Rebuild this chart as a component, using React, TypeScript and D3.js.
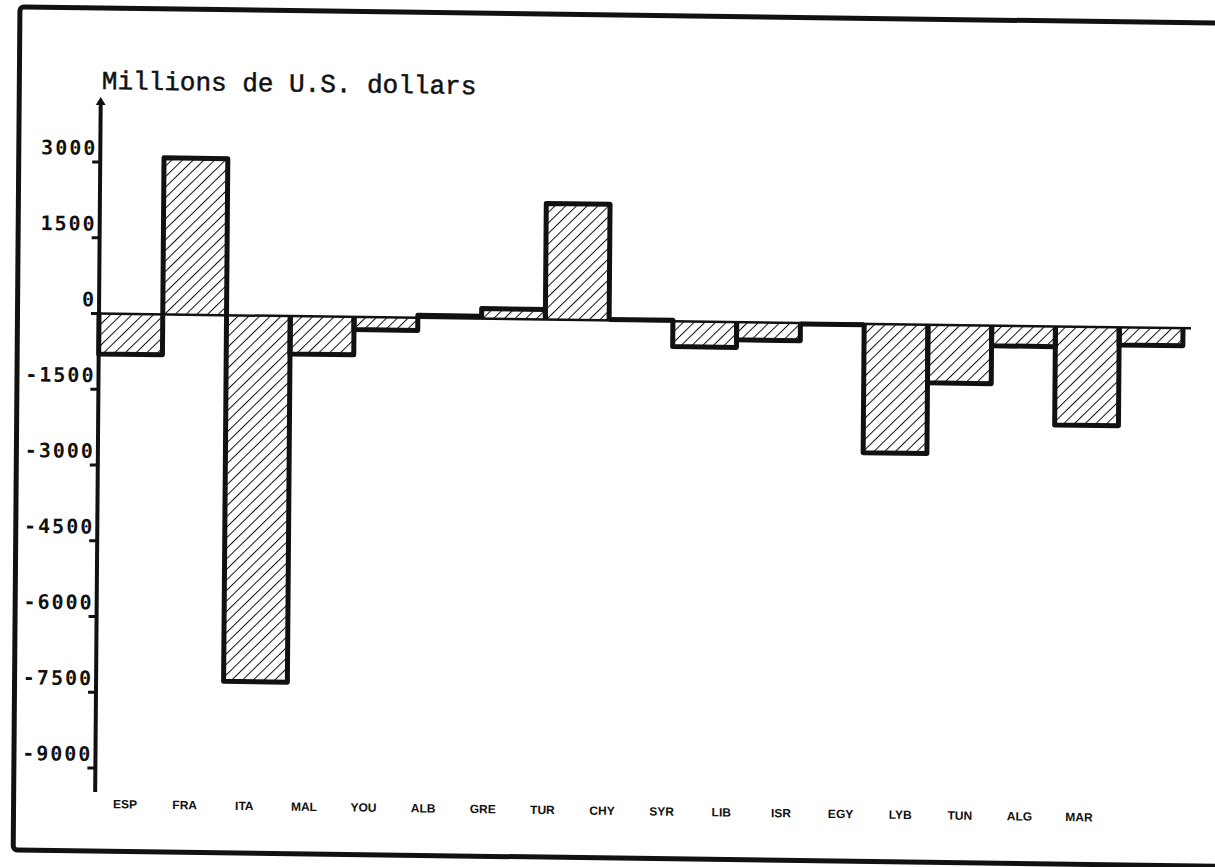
import * as d3 from 'd3';

// Balance by country, millions of U.S. dollars
const CATEGORIES = ['ESP', 'FRA', 'ITA', 'MAL', 'YOU', 'ALB', 'GRE', 'TUR', 'CHY', 'SYR', 'LIB', 'ISR', 'EGY', 'LYB', 'TUN', 'ALG', 'MAR'];
const BALANCE = [-800, 3100, -7250, -750, -250, 50, 200, 2300, 20, -500, -350, -20, -2550, -1150, -400, -1950, -350];
const Y_TICKS = [3000, 1500, 0, -1500, -3000, -4500, -6000, -7500, -9000];
const Y_TITLE = 'Millions de U.S. dollars';

const WIDTH = 1215;
const HEIGHT = 867;
const AXIS_X = 99;
const AXIS_TOP = 97;
const AXIS_BOTTOM = 792;
const INK = '#111';

// the scan is slightly skewed: right side sits lower, bottom sits further left
const SKEW = 'matrix(1, 0.0135, -0.008, 1, 2.512, -1.31)';

export default function App() {
  const x = d3.scaleBand<string>().domain(CATEGORIES).range([AXIS_X, 1183]).padding(0);
  // labels were typed separately, slightly tighter than the bars
  const xLabel = d3.scalePoint<string>().domain(CATEGORIES).range([129, 1083]);
  const y = d3.scaleLinear().domain([-9000, 3000]).range([768, 162]);
  const bw = x.bandwidth();
  const y0 = y(0);

  return (
    <svg
      width={WIDTH}
      height={HEIGHT}
      viewBox={`0 0 ${WIDTH} ${HEIGHT}`}
      style={{ position: 'absolute', left: 0, top: 0, display: 'block', background: '#fff' }}
    >
      <defs>
        <pattern id="hatch" width={7.5} height={7.5} patternUnits="userSpaceOnUse" patternTransform="rotate(45)">
          <line x1={0} y1={0} x2={0} y2={7.5} stroke={INK} strokeWidth={2} />
        </pattern>
      </defs>

      <g transform={SKEW}>
        {/* outer frame (right edge falls outside the page) */}
        <rect x={17.5} y={8} width={1240} height={843} rx={4} fill="none" stroke={INK} strokeWidth={5} />

        {/* title */}
        <text
          x={100}
          y={89}
          fontFamily="'Liberation Mono', monospace"
          fontSize={26}
          fill={INK}
          stroke={INK}
          strokeWidth={0.5}
        >
          {Y_TITLE}
        </text>

        {/* bars */}
        {CATEGORIES.map((c, i) => {
          const v = BALANCE[i];
          const x0 = x(c)!;
          const yv = y(v);
          return (
            <g key={c}>
              <rect x={x0} y={Math.min(y0, yv)} width={bw} height={Math.abs(yv - y0)} fill="url(#hatch)" />
              <path
                d={`M${x0},${y0}V${yv}H${x0 + bw}V${y0}`}
                fill="none"
                stroke={INK}
                strokeWidth={5}
                strokeLinejoin="round"
              />
            </g>
          );
        })}

        {/* zero line */}
        <line x1={AXIS_X} x2={1191} y1={y0} y2={y0} stroke={INK} strokeWidth={2.5} />

        {/* y axis with arrow */}
        <line x1={AXIS_X} x2={AXIS_X} y1={AXIS_TOP + 4} y2={AXIS_BOTTOM} stroke={INK} strokeWidth={4} />
        <path d={`M${AXIS_X - 5},${AXIS_TOP + 8}L${AXIS_X},${AXIS_TOP}L${AXIS_X + 5},${AXIS_TOP + 8}Z`} fill={INK} />
        {Y_TICKS.map((t) => (
          <g key={t}>
            <line x1={AXIS_X - 8} x2={AXIS_X} y1={y(t)} y2={y(t)} stroke={INK} strokeWidth={3} />
            <text
              x={96}
              y={y(t) - 7}
              textAnchor="end"
              fontFamily="'DejaVu Sans Mono', monospace"
              fontWeight="bold"
              fontSize={20}
              letterSpacing={2}
              fill={INK}
            >
              {String(t)}
            </text>
          </g>
        ))}

        {/* category labels */}
        {CATEGORIES.map((c) => (
          <text
            key={c}
            x={xLabel(c)}
            y={808}
            textAnchor="middle"
            fontFamily="'Liberation Sans', Arial, sans-serif"
            fontWeight="bold"
            fontSize={12}
            fill={INK}
          >
            {c}
          </text>
        ))}
      </g>
    </svg>
  );
}
